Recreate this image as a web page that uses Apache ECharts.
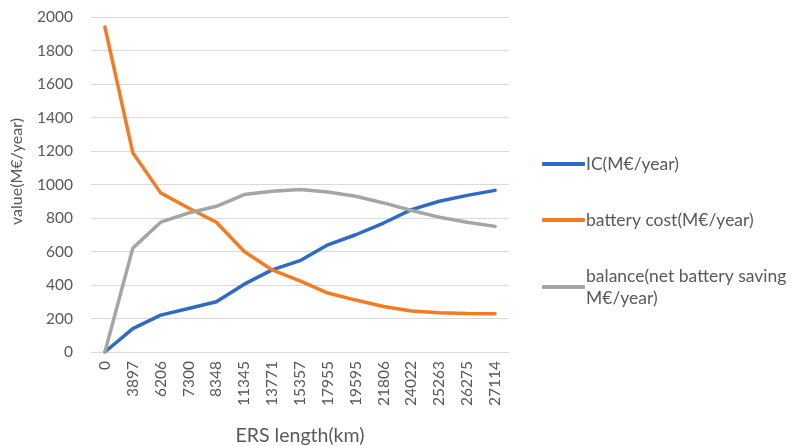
<!DOCTYPE html>
<html>
<head>
<meta charset="utf-8">
<script src="https://cdn.jsdelivr.net/npm/echarts@6/dist/echarts.min.js"></script>
<style>
html, body { margin: 0; padding: 0; background: #fff; }
#chart { width: 793px; height: 446px; }
</style>
</head>
<body>
<div id="chart"></div>
<script>
// ERS length categories (km)
var ersLength = ['0', '3897', '6206', '7300', '8348', '11345', '13771', '15357',
  '17955', '19595', '21806', '24022', '25263', '26275', '27114']
var icCost = [0, 140, 220, 260, 300, 405, 490, 545, 640, 700, 770, 850, 900, 935, 965]
var batteryCost = [1940, 1190, 950, 860, 775, 600, 490, 425, 352, 310, 272, 245, 235, 230, 228]
var balance = [0, 620, 775, 830, 870, 940, 960, 970, 955, 930, 890, 845, 805, 775, 750]

var textColor = '#595959'
var font = 'Lato, "Noto Sans", sans-serif'

var chart = echarts.init(document.getElementById('chart'))
chart.setOption({
  animation: false,
  textStyle: { fontFamily: font },
  grid: { left: 91, top: 17, width: 418, height: 335, outerBoundsMode: 'none', containLabel: false },
  legend: {
    orient: 'vertical',
    left: 542,
    top: 153,
    padding: 0,
    itemWidth: 43,
    itemHeight: 4,
    itemGap: 34,
    icon: 'roundRect',
    textStyle: { color: textColor, fontSize: 17.5, fontFamily: font, padding: [0, 0, 0, -4], lineHeight: 22 },
    data: ['IC(M€/year)', 'battery cost(M€/year)', 'balance(net battery saving\nM€/year)']
  },
  xAxis: {
    type: 'category',
    data: ersLength,
    boundaryGap: true,
    name: 'ERS length(km)',
    nameLocation: 'middle',
    nameGap: 74,
    nameTextStyle: { color: textColor, fontSize: 19.5 },
    axisLine: { lineStyle: { color: '#d9d9d9' } },
    axisTick: { show: false },
    axisLabel: { rotate: 90, color: textColor, fontSize: 15.5, margin: 9 }
  },
  yAxis: {
    type: 'value',
    min: 0,
    max: 2000,
    interval: 200,
    name: 'value(M€/year)',
    nameLocation: 'middle',
    nameGap: 66,
    nameTextStyle: { color: textColor, fontSize: 16, padding: [0, 0, 0, 26] },
    axisLine: { show: false },
    axisTick: { show: false },
    axisLabel: { color: textColor, fontSize: 15.5, margin: 18, formatter: function (v) { return String(v) } },
    splitLine: { lineStyle: { color: '#d9d9d9', width: 1 } }
  },
  series: [
    {
      name: 'IC(M€/year)',
      type: 'line',
      data: icCost,
      symbol: 'none',
      color: '#2E6BC6',
      lineStyle: { width: 3.5, cap: 'round' }
    },
    {
      name: 'battery cost(M€/year)',
      type: 'line',
      data: batteryCost,
      symbol: 'none',
      color: '#F47B22',
      lineStyle: { width: 3.5, cap: 'round' }
    },
    {
      name: 'balance(net battery saving\nM€/year)',
      type: 'line',
      data: balance,
      symbol: 'none',
      color: '#A5A5A5',
      lineStyle: { width: 3.5, cap: 'round' }
    }
  ]
})
</script>
</body>
</html>
